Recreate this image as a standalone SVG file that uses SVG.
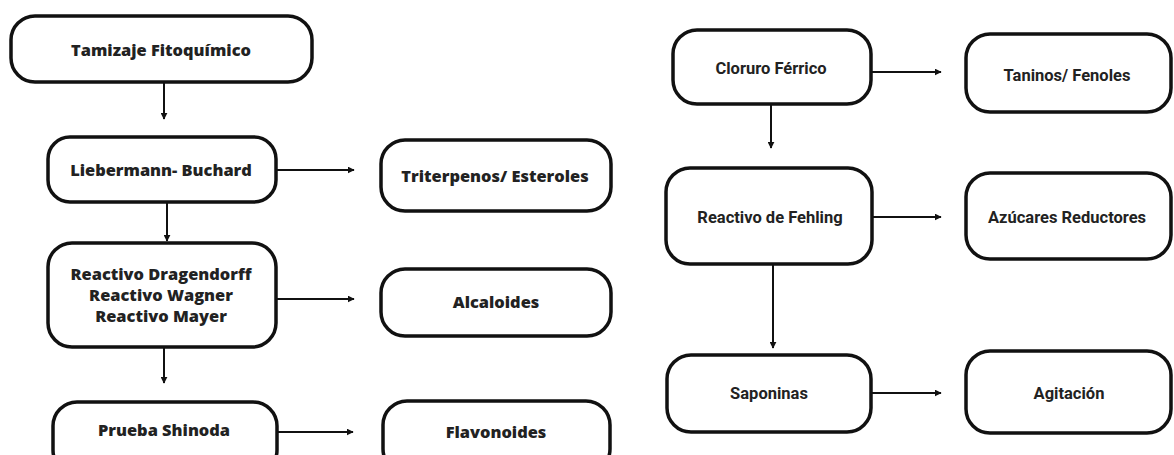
<svg xmlns="http://www.w3.org/2000/svg" width="1174" height="455" viewBox="0 0 1174 455">
<style>
.box{fill:#fff;stroke:#111;stroke-width:3.5}
.l{font-family:"Open Sans","DejaVu Sans",sans-serif;font-weight:800;font-size:16.4px;fill:#222;text-anchor:middle}
.r{font-family:Roboto,"Open Sans",sans-serif;font-weight:700;font-size:16.5px;fill:#222;text-anchor:middle}
.c{stroke:#111;stroke-width:2;fill:none;marker-end:url(#ah)}
</style>
<defs>
<marker id="ah" viewBox="0 0 10 10" refX="9" refY="5" markerWidth="3.5" markerHeight="3.5" orient="auto" markerUnits="strokeWidth">
<path d="M0,0 L10,5 L0,10 z" fill="#111"/>
</marker>
</defs>
<rect width="1174" height="455" fill="#fff"/>
<g id="connectors">
<line class="c" x1="164" y1="83" x2="164" y2="119"/>
<line class="c" x1="277" y1="170" x2="354" y2="170"/>
<line class="c" x1="167" y1="203" x2="167" y2="241"/>
<line class="c" x1="277" y1="299" x2="354" y2="299"/>
<line class="c" x1="164" y1="348" x2="164" y2="383"/>
<line class="c" x1="278" y1="432" x2="353" y2="432"/>
<line class="c" x1="872" y1="72" x2="941" y2="72"/>
<line class="c" x1="771" y1="105" x2="771" y2="148"/>
<line class="c" x1="873" y1="217" x2="941" y2="217"/>
<line class="c" x1="773" y1="265" x2="773" y2="348"/>
<line class="c" x1="872" y1="393" x2="941" y2="393"/>
</g>
<g id="n-tamizaje"><rect class="box" x="11" y="16" width="301" height="66" rx="24"/><text class="l" x="161" y="56">Tamizaje Fitoquímico</text></g>
<g id="n-liebermann"><rect class="box" x="48" y="137" width="228" height="65" rx="22"/><text class="l" x="161" y="176">Liebermann- Buchard</text></g>
<g id="n-reactivos"><rect class="box" x="48" y="243" width="228" height="104" rx="24"/><text class="l" x="161" y="280">Reactivo Dragendorff</text><text class="l" x="161" y="301">Reactivo Wagner</text><text class="l" x="161" y="322">Reactivo Mayer</text></g>
<g id="n-prueba"><rect class="box" x="53" y="402" width="224" height="72" rx="24"/><text class="l" x="164" y="436">Prueba Shinoda</text></g>
<g id="n-triterpenos"><rect class="box" x="381" y="140" width="230" height="71" rx="24"/><text class="l" x="495" y="182">Triterpenos/ Esteroles</text></g>
<g id="n-alcaloides"><rect class="box" x="381" y="269" width="230" height="67" rx="24"/><text class="l" x="496" y="308">Alcaloides</text></g>
<g id="n-flavonoides"><rect class="box" x="383" y="401" width="227" height="72" rx="24"/><text class="l" x="496" y="438">Flavonoides</text></g>
<g id="n-cloruro"><rect class="box" x="673" y="30" width="198" height="74" rx="24"/><text class="r" x="771" y="74">Cloruro Férrico</text></g>
<g id="n-taninos"><rect class="box" x="966" y="34" width="205" height="78" rx="24"/><text class="r" x="1067" y="81">Taninos/ Fenoles</text></g>
<g id="n-fehling"><rect class="box" x="666" y="168" width="206" height="96" rx="24"/><text class="r" x="770" y="223">Reactivo de Fehling</text></g>
<g id="n-azucares"><rect class="box" x="966" y="173" width="205" height="86" rx="24"/><text class="r" x="1067" y="223">Azúcares Reductores</text></g>
<g id="n-saponinas"><rect class="box" x="667" y="355" width="204" height="77" rx="24"/><text class="r" x="769" y="399">Saponinas</text></g>
<g id="n-agitacion"><rect class="box" x="966" y="351" width="205" height="82" rx="24"/><text class="r" x="1069" y="399">Agitación</text></g>
</svg>
